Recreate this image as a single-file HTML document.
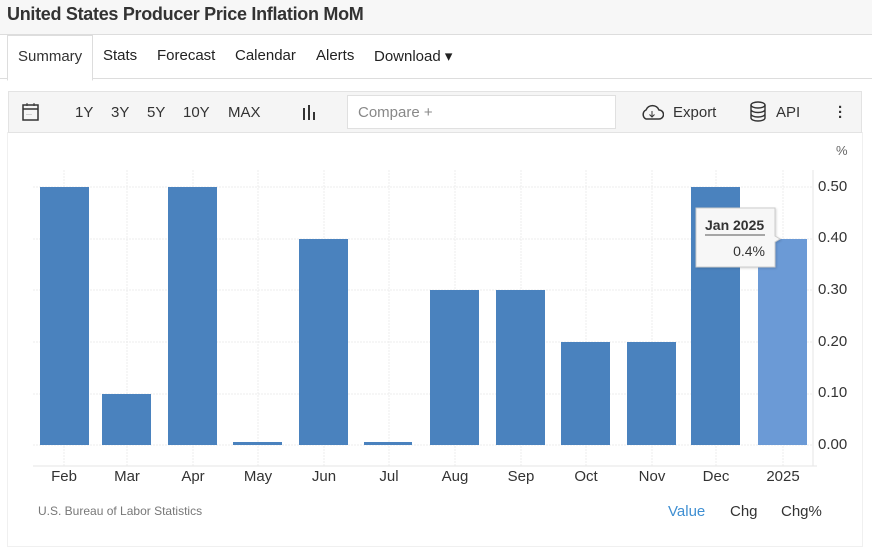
<!DOCTYPE html>
<html><head><meta charset="utf-8"><style>
body{margin:0;width:872px;height:553px;background:#fff;font-family:"Liberation Sans",Arial,sans-serif;position:relative;overflow:hidden}
.hdr{position:absolute;left:0;top:0;width:872px;height:34px;background:#f7f7f7;border-bottom:1px solid #ddd}
.hdr h1{margin:0;position:absolute;left:7px;top:4px;font-size:18px;font-weight:bold;color:#333;letter-spacing:-0.3px}
.tabs{position:absolute;top:35px;left:0;width:872px;height:43px;border-bottom:1px solid #ddd}
.tab{position:absolute;top:12px;font-size:15px;color:#222}
.sel{position:absolute;left:7px;top:35px;width:84px;height:44px;border:1px solid #ddd;border-bottom:1px solid #fff;background:#fff}
.tb{position:absolute;left:8px;top:91px;width:852px;height:40px;background:#f5f5f5;border:1px solid #e3e3e3}
.tb span{position:absolute;top:12px;font-size:15px;color:#333}
.cmp{position:absolute;left:338px;top:3px;width:267px;height:32px;background:#fff;border:1px solid #e0e0e0}
.card{position:absolute;left:7px;top:132px;width:854px;height:414px;border:1px solid #f0f0f0;border-top:none}
.ax{position:absolute;font-size:14px;color:#333}
</style></head><body>
<div class="hdr"><h1>United States Producer Price Inflation MoM</h1></div>
<div class="tabs">
<span class="tab" style="left:103px">Stats</span><span class="tab" style="left:157px">Forecast</span><span class="tab" style="left:235px">Calendar</span><span class="tab" style="left:316px">Alerts</span><span class="tab" style="left:374px">Download ▾</span></div>
<div class="sel"><span style="position:absolute;left:10px;top:12px;font-size:15px;color:#333">Summary</span></div>
<div class="card"></div>
<div class="tb">
<svg style="position:absolute;left:12px;top:10px" width="20" height="20"><rect x="2" y="3" width="15" height="15" fill="none" stroke="#333" stroke-width="1.5"/><line x1="2" y1="7" x2="17" y2="7" stroke="#333" stroke-width="1.5"/><line x1="6" y1="1" x2="6" y2="4" stroke="#333"/><line x1="13" y1="1" x2="13" y2="4" stroke="#333"/><text x="5" y="14" font-size="6" fill="#333">···</text></svg>
<span style="left:66px">1Y</span><span style="left:102px">3Y</span><span style="left:138px">5Y</span><span style="left:174px">10Y</span><span style="left:219px">MAX</span>
<svg style="position:absolute;left:292px;top:12px" width="16" height="16"><rect x="2" y="4" width="2" height="12" fill="#333"/><rect x="7" y="1" width="2" height="15" fill="#333"/><rect x="12" y="8" width="2" height="8" fill="#333"/></svg>
<div class="cmp"><span style="left:10px;top:8px;color:#888">Compare +</span></div>
<svg style="position:absolute;left:631px;top:10px" width="24" height="20"><path d="M6 17 A5 5 0 0 1 6 8 A7 7 0 0 1 19 8 A4.5 4.5 0 0 1 19 17 Z" fill="none" stroke="#333" stroke-width="1.5"/><path d="M12 9 V15 M9.5 12.5 L12 15 L14.5 12.5" stroke="#333" fill="none"/></svg>
<span style="left:664px">Export</span>
<svg style="position:absolute;left:740px;top:9px" width="18" height="22"><ellipse cx="9" cy="4" rx="7" ry="3" fill="none" stroke="#333" stroke-width="1.4"/><path d="M2 4 V17 A7 3 0 0 0 16 17 V4 M2 8.5 A7 3 0 0 0 16 8.5 M2 13 A7 3 0 0 0 16 13" fill="none" stroke="#333" stroke-width="1.4"/></svg>
<span style="left:767px">API</span>
<span style="left:829px;font-weight:bold;line-height:5px;top:13px">·<br>·<br>·</span>
</div>
<svg style="position:absolute;left:0;top:0" width="872" height="553">
<g stroke="#ececec" stroke-width="1" stroke-dasharray="2,1">
<line x1="33" y1="187" x2="813" y2="187"/><line x1="33" y1="239" x2="813" y2="239"/><line x1="33" y1="290" x2="813" y2="290"/><line x1="33" y1="342" x2="813" y2="342"/><line x1="33" y1="394" x2="813" y2="394"/><line x1="33" y1="445" x2="813" y2="445"/>
<line x1="64" y1="170" x2="64" y2="466"/><line x1="127" y1="170" x2="127" y2="466"/><line x1="193" y1="170" x2="193" y2="466"/><line x1="258" y1="170" x2="258" y2="466"/><line x1="324" y1="170" x2="324" y2="466"/><line x1="389" y1="170" x2="389" y2="466"/><line x1="455" y1="170" x2="455" y2="466"/><line x1="521" y1="170" x2="521" y2="466"/><line x1="586" y1="170" x2="586" y2="466"/><line x1="652" y1="170" x2="652" y2="466"/><line x1="716" y1="170" x2="716" y2="466"/><line x1="783" y1="170" x2="783" y2="466"/>
</g>
<line x1="33" y1="466" x2="817" y2="466" stroke="#e6e6e6"/><line x1="813" y1="170" x2="813" y2="466" stroke="#e6e6e6"/>
<g fill="#4a82be">
<rect x="40" y="187" width="49" height="258"/><rect x="102" y="394" width="49" height="51"/><rect x="168" y="187" width="49" height="258"/><rect x="233" y="442" width="49" height="3"/><rect x="299" y="239" width="49" height="206"/><rect x="364" y="442" width="48" height="3"/><rect x="430" y="290" width="49" height="155"/><rect x="496" y="290" width="49" height="155"/><rect x="561" y="342" width="49" height="103"/><rect x="627" y="342" width="49" height="103"/><rect x="691" y="187" width="49" height="258"/>
</g>
<rect x="758" y="239" width="49" height="206" fill="#6b9ad6"/>
<g font-size="15" fill="#333" font-family="Liberation Sans, sans-serif">
<text x="818" y="191">0.50</text><text x="818" y="242">0.40</text><text x="818" y="294">0.30</text><text x="818" y="346">0.20</text><text x="818" y="397">0.10</text><text x="818" y="449">0.00</text>
<text x="836" y="155" font-size="13" fill="#666">%</text>
<g text-anchor="middle"><text x="64" y="481">Feb</text><text x="127" y="481">Mar</text><text x="193" y="481">Apr</text><text x="258" y="481">May</text><text x="324" y="481">Jun</text><text x="389" y="481">Jul</text><text x="455" y="481">Aug</text><text x="521" y="481">Sep</text><text x="586" y="481">Oct</text><text x="652" y="481">Nov</text><text x="716" y="481">Dec</text><text x="783" y="481">2025</text></g>
<text x="38" y="515" font-size="12" fill="#777">U.S. Bureau of Labor Statistics</text>
<text x="668" y="516" fill="#3f8fd2">Value</text><text x="730" y="516">Chg</text><text x="781" y="516">Chg%</text>
</g>
<path d="M696 208 H775 V236 L780 239 L775 242 V267 H696 Z" fill="#f7f7f7" stroke="#ccc" filter="drop-shadow(1px 1px 1px rgba(0,0,0,0.15))"/>
<text x="705" y="230" font-size="14" font-weight="bold" fill="#333" font-family="Liberation Sans, sans-serif">Jan 2025</text>
<line x1="705" y1="235" x2="765" y2="235" stroke="#555"/>
<text x="765" y="256" font-size="14" fill="#333" text-anchor="end" font-family="Liberation Sans, sans-serif">0.4%</text>
</svg>
</body></html>
